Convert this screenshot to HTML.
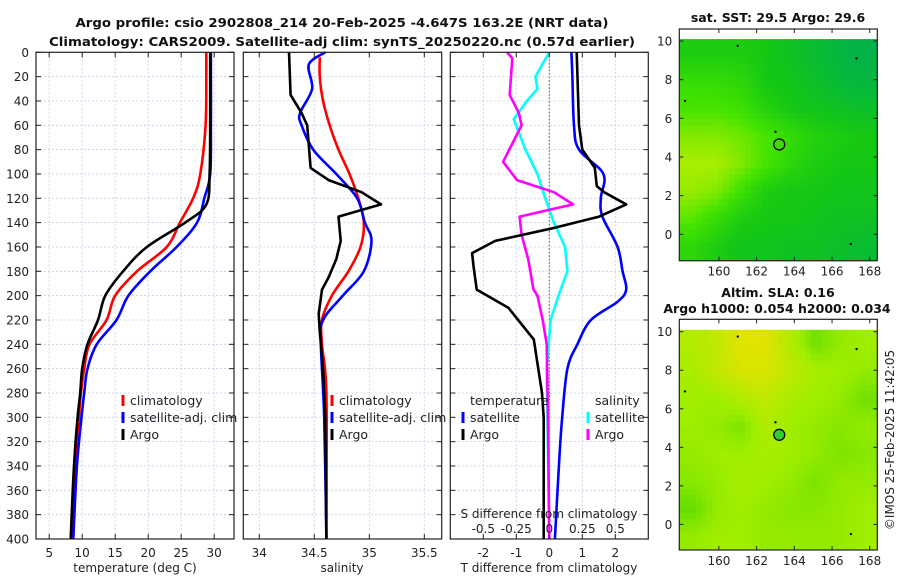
<!DOCTYPE html>
<html><head><meta charset="utf-8"><style>
html,body{margin:0;padding:0;background:#fff}
svg{display:block;font-family:"DejaVu Sans","Liberation Sans",sans-serif}
</style></head><body>
<svg id="c" width="900" height="580" viewBox="0 0 900 580"></svg>
<script>
// ---- data ----
const tDepth = [0,20,60,100,120,140,160,180,200,220,240,260,280,300,340,400];
const tClim  = [28.8,28.8,28.7,27.9,26.8,24.8,22.8,18.3,15.0,13.7,11.1,10.3,9.8,9.5,8.9,8.4];
const tSat   = [29.5,29.5,29.5,29.4,28.5,27.4,24.3,20.3,17.0,15.2,12.2,10.8,10.3,9.9,9.2,8.65];
const tArgoDepth = [0,60,100,125,140,160,180,200,220,240,260,280,300,340,400];
const tArgo  = [29.4,29.4,29.3,28.8,25.6,19.8,16.2,13.5,12.4,10.8,10.0,9.7,9.3,8.75,8.25];

const sClimDepth = [4,20,40,60,80,100,120,140,160,180,200,220,240,280,400];
const sClim  = [34.55,34.55,34.58,34.64,34.72,34.82,34.90,34.95,34.92,34.81,34.66,34.57,34.57,34.61,34.61];
const sSatDepth = [0,10,30,50,60,80,100,120,140,155,180,200,220,240,300,400];
const sSat   = [34.60,34.45,34.48,34.37,34.385,34.49,34.70,34.89,34.96,35.02,34.95,34.76,34.58,34.56,34.59,34.61];
const sArgoDepth = [0,35,50,60,95,105,115,125,135,155,170,185,195,215,230,260,300,400];
const sArgo  = [34.27,34.285,34.385,34.436,34.467,34.63,34.93,35.106,34.72,34.74,34.70,34.63,34.57,34.54,34.55,34.58,34.60,34.61];

const dTSatDepth = [0,20,60,80,100,120,135,160,180,195,205,220,240,260,300,340,400];
const dTSat = [0.67,0.70,0.75,0.90,1.64,1.56,1.61,2.07,2.22,2.33,2.07,1.26,0.85,0.55,0.39,0.29,0.17];
const dTArgoDepth = [0,60,80,95,110,115,125,135,145,155,165,175,195,210,236,280,300,400];
const dTArgo = [0.83,0.90,1.0,1.38,1.44,1.66,2.33,1.51,0.04,-1.64,-2.34,-2.3,-2.2,-1.24,-0.47,-0.22,-0.17,-0.17];
const dSSatDepth = [0,20,30,40,55,80,100,120,140,160,180,200,220,260,400];
const dSSat = [0.0,-0.105,-0.09,-0.17,-0.27,-0.18,-0.09,-0.03,0.035,0.12,0.137,0.07,0.01,-0.02,0.0];
const dSArgoDepth = [0,5,35,50,60,90,105,115,125,135,150,170,195,200,220,240,300,400];
const dSArgo = [-0.32,-0.28,-0.30,-0.23,-0.21,-0.35,-0.245,0.035,0.18,-0.225,-0.21,-0.16,-0.12,-0.09,-0.05,-0.02,-0.01,0.0];

const depthTicks = [0,20,40,60,80,100,120,140,160,180,200,220,240,260,280,300,320,340,360,380,400];
const tTicks = [5,10,15,20,25,30];
const sTicks = [34,34.5,35,35.5];
const sTickLabels = ["34","34.5","35","35.5"];
const dTTicks = [-2,-1,0,1,2];
const dSTicks = [-0.5,-0.25,0,0.25,0.5];
const dSTickLabels = ["-0.5","-0.25","0","0.25","0.5"];

const lonTicks = [160,162,164,166,168];
const latTicks = [0,2,4,6,8,10];
const sstGrid = [
 [0.45,0.45,0.45,0.40,0.30,0.20,0.10,0.05],
 [0.60,0.60,0.55,0.40,0.35,0.25,0.15,0.10],
 [0.70,0.70,0.65,0.50,0.40,0.35,0.30,0.25],
 [0.85,0.85,0.80,0.70,0.60,0.50,0.45,0.40],
 [0.95,0.95,0.85,0.70,0.55,0.45,0.40,0.40],
 [0.90,0.85,0.65,0.45,0.40,0.40,0.35,0.35],
 [0.75,0.60,0.45,0.40,0.40,0.35,0.30,0.30],
 [0.55,0.45,0.35,0.35,0.30,0.30,0.25,0.20]];
const slaGrid = [
 [0.60,0.70,0.90,0.90,0.60,0.30,0.45,0.50],
 [0.55,0.70,0.85,0.85,0.70,0.55,0.50,0.45],
 [0.50,0.50,0.60,0.70,0.55,0.50,0.45,0.30],
 [0.50,0.45,0.35,0.60,0.50,0.45,0.40,0.45],
 [0.45,0.50,0.50,0.55,0.50,0.45,0.35,0.40],
 [0.40,0.45,0.55,0.50,0.45,0.35,0.45,0.45],
 [0.25,0.45,0.50,0.45,0.40,0.40,0.45,0.50],
 [0.45,0.50,0.50,0.45,0.45,0.45,0.45,0.50]];
const argoLon = 163.2, argoLat = 4.65;

// ---- helpers ----
const svg = document.getElementById('c');
const NS = 'http://www.w3.org/2000/svg';
function mk(tag, attrs, parent){ const e=document.createElementNS(NS,tag); for(const k in attrs) e.setAttribute(k,attrs[k]); (parent||svg).appendChild(e); return e; }
function txt(s, x, y, attrs, parent){ const e=mk('text', Object.assign({x:x,y:y,'font-size':12,fill:'#222'},attrs||{}), parent); e.textContent=s; return e; }

const TOP=52.3, BOT=539;
const yD = d => TOP + d*(BOT-TOP)/400;
const panels = [
 {x0:36,x1:234,min:3,max:33,name:'temperature-panel'},
 {x0:243.3,x1:441.7,min:33.855,max:35.658,name:'salinity-panel'},
 {x0:450.3,x1:648.3,min:-3,max:3,name:'difference-panel'}];
function xf(p){ return v => p.x0 + (v-p.min)*(p.x1-p.x0)/(p.max-p.min); }
const xT = xf(panels[0]), xS = xf(panels[1]), xDT = xf(panels[2]);
const xDSf = v => xDT(v*4);

function grid(p, xticks, xfun){
  const g = mk('g',{});
  
  
  depthTicks.forEach(d=>{ mk('line',{x1:p.x0,x2:p.x1,y1:yD(d),y2:yD(d),stroke:'#c4cbe6','stroke-width':0.8,'stroke-dasharray':'2,2'},g); });
  xticks.forEach(t=>{ mk('line',{x1:xfun(t),x2:xfun(t),y1:TOP,y2:BOT,stroke:'#c4cbe6','stroke-width':0.8,'stroke-dasharray':'2,2'},g); });
}
function line(xs, ds, xfun, color, name, parent, smooth){
  const P = xs.map((v,i)=>[xfun(v), yD(ds[i])]);
  let d = 'M'+P[0][0].toFixed(1)+','+P[0][1].toFixed(1);
  for(let i=0;i<P.length-1;i++){
    if(smooth){
      const p0=P[Math.max(0,i-1)], p1=P[i], p2=P[i+1], p3=P[Math.min(P.length-1,i+2)];
      const c1=[p1[0]+(p2[0]-p0[0])/6, p1[1]+(p2[1]-p0[1])/6];
      const c2=[p2[0]-(p3[0]-p1[0])/6, p2[1]-(p3[1]-p1[1])/6];
      d+=' C'+c1.map(v=>v.toFixed(1)).join(',')+' '+c2.map(v=>v.toFixed(1)).join(',')+' '+p2[0].toFixed(1)+','+p2[1].toFixed(1);
    } else d+=' L'+P[i+1][0].toFixed(1)+','+P[i+1][1].toFixed(1);
  }
  const e = mk('path',{d:d,fill:'none',stroke:color,'stroke-width':2.6,'stroke-linejoin':'round'},parent);
  
  
  return e;
}
function frame(p){
  const r = mk('rect',{x:p.x0,y:TOP,width:p.x1-p.x0,height:BOT-TOP,fill:'none',stroke:'#222','stroke-width':1.2});
  
  
}
function yTickMarks(p){
  depthTicks.forEach(d=>{
    mk('line',{x1:p.x0,x2:p.x0+5,y1:yD(d),y2:yD(d),stroke:'#222'});
    mk('line',{x1:p.x1,x2:p.x1-5,y1:yD(d),y2:yD(d),stroke:'#222'});
  });
}
function xTickMarks(xticks, xfun){
  xticks.forEach(t=>{
    mk('line',{x1:xfun(t),x2:xfun(t),y1:BOT,y2:BOT-5,stroke:'#222'});
    mk('line',{x1:xfun(t),x2:xfun(t),y1:TOP,y2:TOP+5,stroke:'#222'});
  });
}

// titles
let t1 = txt('Argo profile: csio 2902808_214 20-Feb-2025 -4.647S 163.2E (NRT data)', 342, 27, {'text-anchor':'middle','font-weight':'bold','font-size':12.5,fill:'#111',textLength:533,lengthAdjust:'spacingAndGlyphs'});
 
let t2 = txt('Climatology: CARS2009. Satellite-adj clim: synTS_20250220.nc (0.57d earlier)', 342, 46, {'text-anchor':'middle','font-weight':'bold','font-size':12.5,fill:'#111',textLength:586,lengthAdjust:'spacingAndGlyphs'});
 

grid(panels[0], tTicks, xT);
grid(panels[1], sTicks, xS);
grid(panels[2], dTTicks, xDT);

const yl = mk('g',{});  
depthTicks.forEach(d=> txt(String(d), 29, yD(d)+4.5, {'text-anchor':'end'}, yl));

// panel 1
const g1 = mk('g',{});  
line(tClim, tDepth, xT, '#ff0000', 'temperature-climatology-line', g1, true);
line(tSat, tDepth, xT, '#0000ff', 'temperature-satellite-line', g1, true);
line(tArgo, tArgoDepth, xT, '#000000', 'temperature-argo-line', g1, true);
tTicks.forEach(t=> txt(String(t), xT(t), 557, {'text-anchor':'middle'}));
let xl1 = txt('temperature (deg C)', 135, 572, {'text-anchor':'middle'});  

// panel 2
const g2 = mk('g',{});  
line(sClim, sClimDepth, xS, '#ff0000', 'salinity-climatology-line', g2, true);
line(sSat, sSatDepth, xS, '#0000ff', 'salinity-satellite-line', g2, true);
line(sArgo, sArgoDepth, xS, '#000000', 'salinity-argo-line', g2, false);
sTicks.forEach((t,i)=> txt(sTickLabels[i], xS(t), 557, {'text-anchor':'middle'}));
let xl2 = txt('salinity', 342, 572, {'text-anchor':'middle'});  

// panel 3
mk('line',{x1:xDT(0),x2:xDT(0),y1:TOP,y2:BOT,stroke:'#555533','stroke-width':1,'stroke-dasharray':'1.5,2'});
const g3 = mk('g',{});  
line(dSSat, dSSatDepth, xDSf, '#00ffff', 'salinity-diff-satellite-line', g3, false);
line(dSArgo, dSArgoDepth, xDSf, '#ff00ff', 'salinity-diff-argo-line', g3, false);
line(dTSat, dTSatDepth, xDT, '#0000ff', 'temperature-diff-satellite-line', g3, true);
line(dTArgo, dTArgoDepth, xDT, '#000000', 'temperature-diff-argo-line', g3, false);
dTTicks.forEach(t=> txt(String(t), xDT(t), 557, {'text-anchor':'middle'}));
let xl3 = txt('T difference from climatology', 549, 572, {'text-anchor':'middle'});  
let xl4 = txt('S difference from climatology', 549, 518, {'text-anchor':'middle'});  
dSTicks.forEach((t,i)=> txt(dSTickLabels[i], xDSf(t), 533, {'text-anchor':'middle'}));

panels.forEach(p=>{ frame(p); yTickMarks(p); });
xTickMarks(tTicks, xT); xTickMarks(sTicks, xS); xTickMarks(dTTicks, xDT);

function legend(x, y, color, label, name){
  const g = mk('g',{});
  
  
  mk('rect',{x:x-1.5,y:y-10,width:3,height:11,fill:color},g);
  txt(label, x+7, y, {'font-size':12.5}, g);
}
legend(123,405,'#ff0000','climatology','legend-entry-climatology');
legend(123,422,'#0000ff','satellite-adj. clim','legend-entry-satellite-adj');
legend(123,439,'#000000','Argo','legend-entry-argo');
legend(332,405,'#ff0000','climatology','legend-entry-sal-climatology');
legend(332,422,'#0000ff','satellite-adj. clim','legend-entry-sal-satellite-adj');
legend(332,439,'#000000','Argo','legend-entry-sal-argo');
txt('temperature', 470, 405, {'font-size':12.5});
legend(463,422,'#0000ff','satellite','legend-entry-t-satellite');
legend(463,439,'#000000','Argo','legend-entry-t-argo');
txt('salinity', 595, 405, {'font-size':12.5});
legend(588,422,'#00ffff','satellite','legend-entry-s-satellite');
legend(588,439,'#ff00ff','Argo','legend-entry-s-argo');

// ---- maps ----
function lerpColor(stops, v){
  v=Math.max(0,Math.min(1,v));
  for(let i=0;i<stops.length-1;i++){
    const a=stops[i], b=stops[i+1];
    if(v<=b[0]){ const f=(v-a[0])/(b[0]-a[0]); return 'rgb('+[1,2,3].map(k=>Math.round(a[k]+(b[k]-a[k])*f)).join(',')+')'; }
  }
  const l=stops[stops.length-1]; return 'rgb('+l[1]+','+l[2]+','+l[3]+')';
}
function sample(gr, fr, fc){
  const R=gr.length, C=gr[0].length;
  const r=Math.max(0,Math.min(R-1, fr*R-0.5)), c=Math.max(0,Math.min(C-1, fc*C-0.5));
  const r0=Math.floor(r), c0=Math.floor(c), r1=Math.min(R-1,r0+1), c1=Math.min(C-1,c0+1);
  const a=r-r0, b=c-c0;
  return gr[r0][c0]*(1-a)*(1-b)+gr[r0][c1]*(1-a)*b+gr[r1][c0]*a*(1-b)+gr[r1][c1]*a*b;
}
const sstStops=[[0,0,176,80],[0.4,20,200,20],[0.7,70,228,0],[1,190,240,0]];
const slaStops=[[0,40,205,0],[0.5,160,238,0],[1,240,225,0]];
function map(cfg){
  const g = mk('g',{});
  
  
  const X = lon => cfg.x0 + (lon-157.9)*(cfg.x1-cfg.x0)/(168.4-157.9);
  const Y = lat => cfg.y10 + (10-lat)*cfg.ppd;
  const latTop = 10.1, latBot = 10 - (cfg.y1-cfg.y10)/cfg.ppd;
  const N=36;
  const cw=(cfg.x1-cfg.x0)/N, ch=(Y(latBot)-Y(latTop))/N;
  for(let r=0;r<N;r++) for(let c=0;c<N;c++){
    const v = sample(cfg.grid,(r+0.5)/N,(c+0.5)/N);
    const cell = mk('rect',{x:(cfg.x0+c*cw).toFixed(2),y:(Y(latTop)+r*ch).toFixed(2),width:(cw+0.5).toFixed(2),height:(ch+0.5).toFixed(2),fill:lerpColor(cfg.stops,v)},g);
    
    
  }
  [[161,9.75],[167,-0.5],[163,5.3],[158.2,6.9],[167.3,9.1]].forEach(p=> mk('circle',{cx:X(p[0]),cy:Y(p[1]),r:1.2,fill:'#000'},g));
  const m = mk('circle',{cx:X(argoLon),cy:Y(argoLat),r:5.5,fill:cfg.markerFill,stroke:'#000','stroke-width':1.3},g);
  
  
  mk('rect',{x:cfg.x0,y:cfg.y0,width:cfg.x1-cfg.x0,height:cfg.y1-cfg.y0,fill:'none',stroke:'#222','stroke-width':1.2},g);
  lonTicks.forEach(l=>{
    mk('line',{x1:X(l),x2:X(l),y1:cfg.y1,y2:cfg.y1-4,stroke:'#222'},g);
    mk('line',{x1:X(l),x2:X(l),y1:cfg.y0,y2:cfg.y0+4,stroke:'#222'},g);
    txt(String(l), X(l), cfg.y1+15, {'text-anchor':'middle'}, g);
  });
  latTicks.forEach(l=>{
    mk('line',{x1:cfg.x0,x2:cfg.x0+4,y1:Y(l),y2:Y(l),stroke:'#222'},g);
    mk('line',{x1:cfg.x1,x2:cfg.x1-4,y1:Y(l),y2:Y(l),stroke:'#222'},g);
    txt(String(l), cfg.x0-7, Y(l)+4.5, {'text-anchor':'end'}, g);
  });
}
map({name:'sst-map',x0:679.3,x1:877.3,y0:29,y1:260.7,y10:41,ppd:19.33,grid:sstGrid,stops:sstStops,markerFill:'none'});
map({name:'sla-map',x0:679.3,x1:877.3,y0:319.3,y1:550,y10:331.7,ppd:19.27,grid:slaGrid,stops:slaStops,markerFill:'#33cc33'});

let m1 = txt('sat. SST: 29.5 Argo: 29.6', 778, 22, {'text-anchor':'middle','font-weight':'bold','font-size':12.5,fill:'#111'});
 
let m2 = txt('Altim. SLA: 0.16', 778, 297, {'text-anchor':'middle','font-weight':'bold','font-size':12.5,fill:'#111'});
 
let m3 = txt('Argo h1000: 0.054 h2000: 0.034', 777, 313, {'text-anchor':'middle','font-weight':'bold','font-size':12.5,fill:'#111'});
 
let cp = txt('©IMOS 25-Feb-2025 11:42:05', 0, 0, {'text-anchor':'middle',transform:'translate(894,440) rotate(-90)'});
 
</script>
</body></html>
